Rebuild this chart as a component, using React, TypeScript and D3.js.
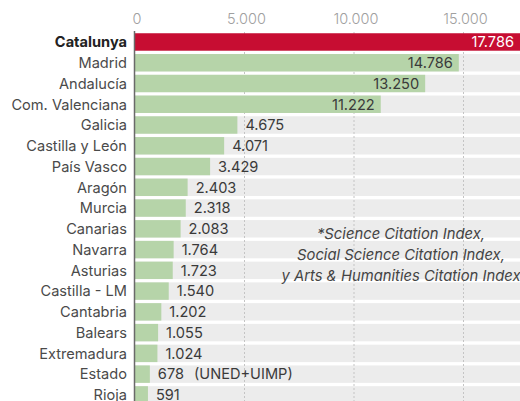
import React from "react";
import * as d3 from "d3";

const categories = [
  "Catalunya", "Madrid", "Andalucía", "Com. Valenciana", "Galicia", "Castilla y León",
  "País Vasco", "Aragón", "Murcia", "Canarias", "Navarra", "Asturias", "Castilla - LM",
  "Cantabria", "Balears", "Extremadura", "Estado", "Rioja",
];
const values = [
  17786, 14786, 13250, 11222, 4675, 4071, 3429, 2403, 2318, 2083, 1764, 1723, 1540,
  1202, 1055, 1024, 678, 591,
];
const suffixes: Record<string, string> = { Estado: "(UNED+UIMP)" };
const ticks = [0, 5000, 10000, 15000];
const noteLines = [
  "*Science Citation Index,",
  "Social Science Citation Index,",
  "y Arts & Humanities Citation Index",
];

const W = 520;
const H = 401;
const FONT = "Inter, 'Noto Sans', sans-serif";

const fmt = (v: number) => {
  const s = String(v);
  return s.length > 3 ? s.slice(0, s.length - 3) + "." + s.slice(-3) : s;
};

export default function App() {
  const x = d3.scaleLinear().domain([0, 15000]).range([135, 463.5]);
  const y = d3
    .scaleBand<string>()
    .domain(categories)
    .range([31.6, 31.6 + 18 * 20.76])
    .paddingInner(0.16)
    .paddingOuter(0.08);
  const bw = y.bandwidth();
  const insideCount = 4;

  return (
    <svg
      width={W}
      height={H}
      style={{ position: "absolute", left: 0, top: 0, background: "#fff" }}
      fontFamily={FONT}
    >
      {/* tick labels */}
      {ticks.map((t) => (
        <text
          key={t}
          x={x(t) + 2}
          y={24}
          textAnchor="middle"
          fontSize={14.5}
          fontWeight={300}
          fill="#a0a0a0"
        >
          {fmt(t)}
        </text>
      ))}
      {/* gray row bands */}
      {categories.map((c) => (
        <rect key={"bg" + c} x={x(0)} y={y(c)} width={W - x(0)} height={bw} fill="#ececec" />
      ))}
      {/* dashed gridlines */}
      {ticks.slice(1).map((t) => (
        <line
          key={"g" + t}
          x1={x(t)}
          x2={x(t)}
          y1={32}
          y2={H}
          stroke="#c4c4c4"
          strokeWidth={1}
          strokeDasharray="2,2"
        />
      ))}
      {/* bars */}
      {categories.map((c, i) => (
        <rect
          key={"b" + c}
          x={x(0)}
          y={y(c)}
          width={x(values[i]) - x(0)}
          height={bw}
          fill={i === 0 ? "#c70d32" : "#b6d4a9"}
        />
      ))}
      {/* axis line */}
      <line x1={x(0) - 0.5} x2={x(0) - 0.5} y1={31} y2={H} stroke="#6a6a6a" strokeWidth={1.5} />
      {/* category labels */}
      {categories.map((c, i) => (
        <text
          key={"l" + c}
          x={127}
          y={(y(c) as number) + bw / 2}
          dy="0.36em"
          textAnchor="end"
          fontSize={14.6}
          fontWeight={i === 0 ? 700 : 400}
          fill={i === 0 ? "#222" : "#4a4a4a"}
        >
          {c}
        </text>
      ))}
      {/* value labels */}
      {categories.map((c, i) => {
        const cy = (y(c) as number) + bw / 2;
        if (i === 0) {
          return (
            <text key={"v" + c} x={514} y={cy} dy="0.36em" textAnchor="end" fontSize={14.6} fill="#fff">
              {fmt(values[i])}
            </text>
          );
        }
        if (i < insideCount) {
          return (
            <text key={"v" + c} x={x(values[i]) - 6} y={cy} dy="0.36em" textAnchor="end" fontSize={14.6} fill="#3a3a3a">
              {fmt(values[i])}
            </text>
          );
        }
        return (
          <text key={"v" + c} x={x(values[i]) + 8} y={cy} dy="0.36em" textAnchor="start" fontSize={14.6} fill="#3a3a3a">
            {fmt(values[i])}
            {suffixes[c] ? <tspan dx={10}>{suffixes[c]}</tspan> : null}
          </text>
        );
      })}
      {/* note */}
      {noteLines.map((t, i) => (
        <text
          key={"n" + i}
          x={401}
          y={234 + i * 20.8}
          dy="0.36em"
          textAnchor="middle"
          fontSize={14.8}
          fontStyle="italic"
          fill="#444"
        >
          {t}
        </text>
      ))}
    </svg>
  );
}
